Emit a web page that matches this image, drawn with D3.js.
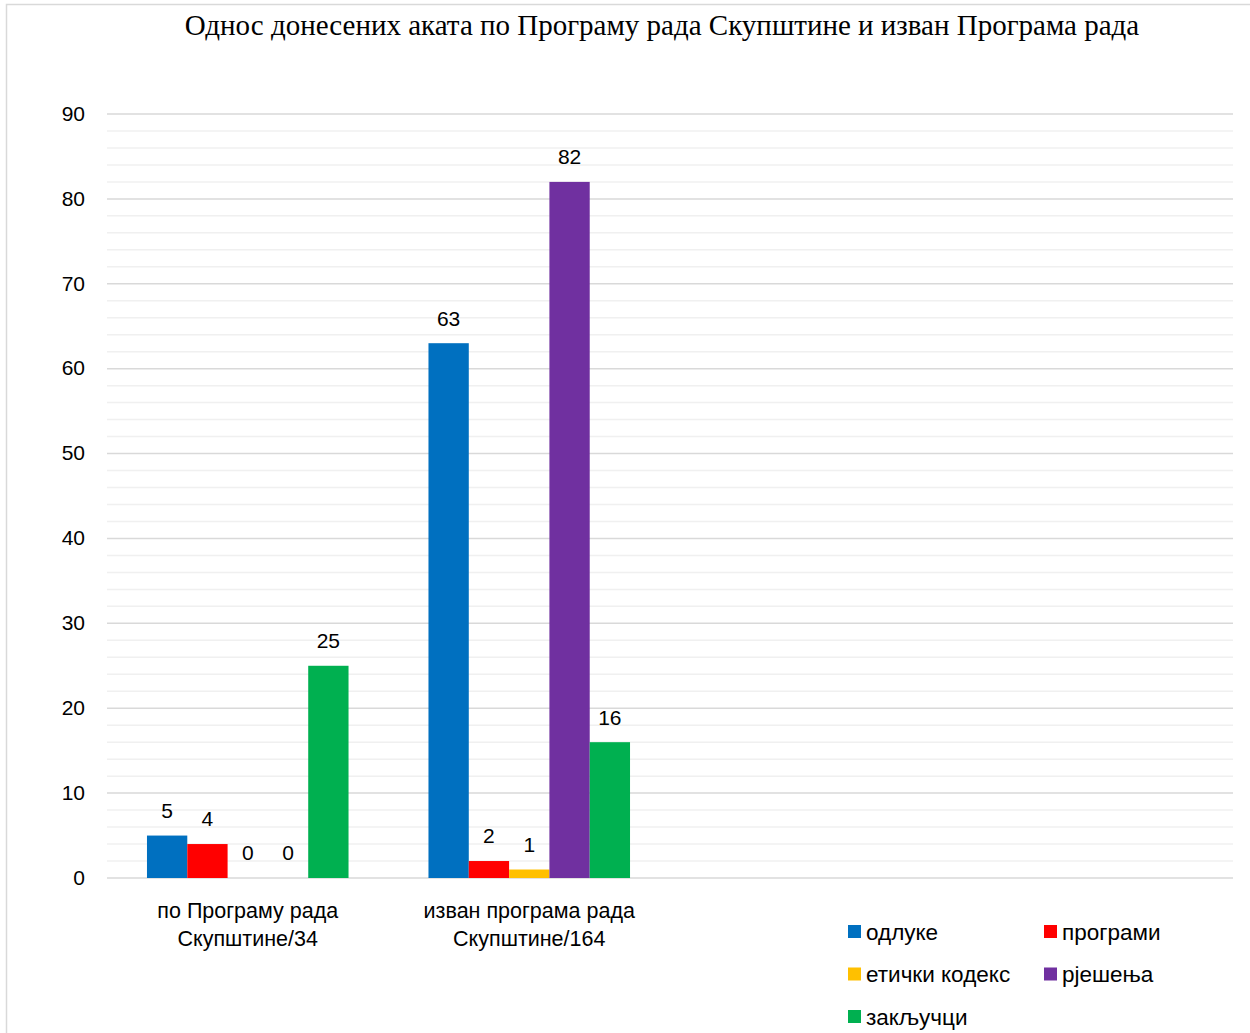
<!DOCTYPE html>
<meta charset="utf-8">
<html>
<head>
    <style>
        body { margin: 0; background: #fff; }
        .tick text, .lbl, .legend text, .cat { font-family: "Liberation Sans", sans-serif; fill: #000; }
        .grid-major { stroke: #d9d9d9; stroke-width: 1.5px; }
        .grid-minor { stroke: #f0f0f0; stroke-width: 1.5px; }
    </style>
    <script src="https://d3js.org/d3.v7.min.js"></script>
</head>
<body>
<svg id="svg" width="1250" height="1033"></svg>
<script>

    var categories = [["по Програму рада", "Скупштине/34"], ["изван програма рада", "Скупштине/164"], [], []];
    var seriesNames = ["одлуке", "програми", "етички кодекс", "рјешења", "закључци"];
    var seriesColors = ["#0070c0", "#ff0000", "#ffc000", "#7030a0", "#00b050"];
    var values = [
        [5, 4, 0, 0, 25],
        [63, 2, 1, 82, 16]
    ];
    var yTicks = [0, 10, 20, 30, 40, 50, 60, 70, 80, 90];

    var svg = d3.select("svg");

    svg.append("rect")
        .attr("x", 6.5).attr("y", 4.5)
        .attr("width", 1260).attr("height", 1040)
        .attr("fill", "none").attr("stroke", "#d9d9d9").attr("stroke-width", 1.5);

    svg.append("text")
        .attr("x", 662).attr("y", 35)
        .attr("text-anchor", "middle")
        .style("font-family", "'Liberation Serif', serif")
        .style("font-size", "29px")
        .text("Однос донесених аката по Програму рада Скупштине и изван Програма рада");

    var pLeft = 107, pRight = 1233, pTop = 114, pBottom = 878;

    var y = d3.scaleLinear().domain([0, 90]).range([pBottom, pTop]);

    var x0 = d3.scaleBand()
        .domain(d3.range(categories.length))
        .range([pLeft, pRight])
        .paddingInner(0.284)
        .paddingOuter(0.142);

    var x1 = d3.scaleBand()
        .domain(d3.range(seriesNames.length))
        .range([0, x0.bandwidth()]);

    // minor grid every 2
    svg.append("g").selectAll("line")
        .data(d3.range(0, 91, 2).filter(function (d) { return d % 10 !== 0; }))
        .enter().append("line")
        .attr("class", "grid-minor")
        .attr("x1", pLeft).attr("x2", pRight)
        .attr("y1", function (d) { return y(d); })
        .attr("y2", function (d) { return y(d); });

    svg.append("g").selectAll("line")
        .data(yTicks)
        .enter().append("line")
        .attr("class", "grid-major")
        .attr("x1", pLeft).attr("x2", pRight)
        .attr("y1", function (d) { return y(d); })
        .attr("y2", function (d) { return y(d); });

    var yAxis = svg.append("g")
        .attr("transform", "translate(" + (pLeft - 22) + ",0)")
        .call(d3.axisLeft(y).tickValues(yTicks).tickSize(0).tickPadding(0));
    yAxis.select(".domain").remove();
    yAxis.selectAll("text").style("font-size", "21px").attr("dy", "0.3em");

    var groups = svg.append("g").selectAll("g")
        .data(values)
        .enter().append("g")
        .attr("transform", function (d, i) { return "translate(" + x0(i) + ",0)"; });

    groups.selectAll("rect")
        .data(function (d) { return d; })
        .enter().append("rect")
        .attr("x", function (d, j) { return x1(j); })
        .attr("width", x1.bandwidth())
        .attr("y", function (d) { return y(d); })
        .attr("height", function (d) { return pBottom - y(d); })
        .attr("fill", function (d, j) { return seriesColors[j]; });

    groups.selectAll(".lbl")
        .data(function (d) { return d; })
        .enter().append("text")
        .attr("class", "lbl")
        .attr("text-anchor", "middle")
        .style("font-size", "21px")
        .attr("x", function (d, j) { return x1(j) + x1.bandwidth() / 2; })
        .attr("y", function (d) { return y(d) - 25; })
        .attr("dy", "0.35em")
        .text(function (d) { return d; });

    var catText = svg.append("g").selectAll("text")
        .data(categories)
        .enter().append("text")
        .attr("class", "cat")
        .attr("text-anchor", "middle")
        .style("font-size", "21.5px")
        .attr("x", function (d, i) { return x0(i) + x0.bandwidth() / 2; })
        .attr("y", 918);
    catText.selectAll("tspan")
        .data(function (d) { return d; })
        .enter().append("tspan")
        .attr("x", function () { return d3.select(this.parentNode).attr("x"); })
        .attr("dy", function (d, k) { return k === 0 ? 0 : 28; })
        .text(function (d) { return d; });

    var legend = svg.append("g").attr("class", "legend");
    var item = legend.selectAll("g")
        .data(seriesNames)
        .enter().append("g")
        .attr("transform", function (d, i) {
            return "translate(" + (848 + (i % 2) * 196) + "," + (932 + Math.floor(i / 2) * 42.5) + ")";
        });
    item.append("rect")
        .attr("x", 0).attr("y", -7)
        .attr("width", 13).attr("height", 13)
        .attr("fill", function (d, i) { return seriesColors[i]; });
    item.append("text")
        .attr("x", 18).attr("dy", "0.35em")
        .style("font-size", "22.5px")
        .text(function (d) { return d; });

</script>
</body>
</html>
